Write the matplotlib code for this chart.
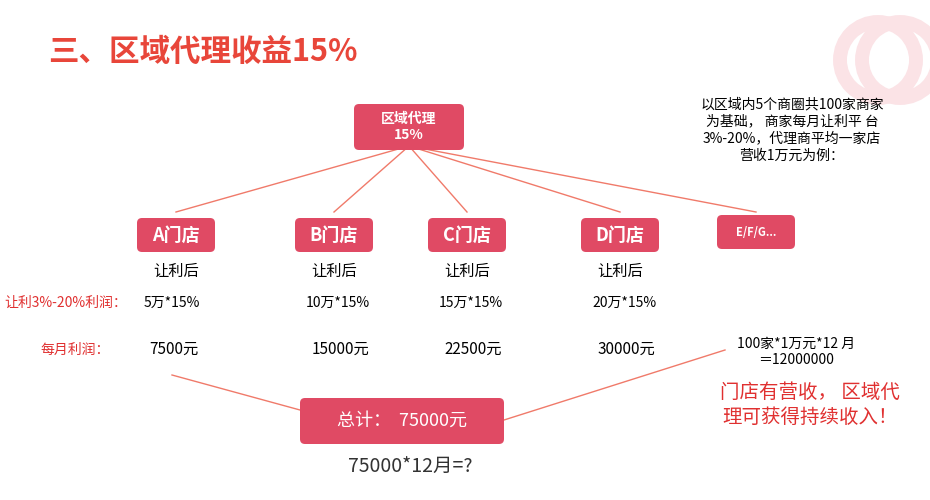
import matplotlib.pyplot as plt
from matplotlib.patches import FancyBboxPatch, Circle

plt.rcParams['font.family'] = ['Noto Sans CJK SC', 'DejaVu Sans']

stores = ['A门店', 'B门店', 'C门店', 'D门店', 'E/F/G...']
store_x = [176, 334, 467, 620, 756]
formulas = ['5万*15%', '10万*15%', '15万*15%', '20万*15%']
profits = ['7500元', '15000元', '22500元', '30000元']
total = '总计：  75000元'

box_c = '#e04a64'
line_c = '#f07a6a'

fig = plt.figure(figsize=(9.3, 5.0), dpi=100)
ax = fig.add_axes([0, 0, 1, 1])
ax.set_xlim(0, 930)
ax.set_ylim(500, 0)
ax.axis('off')

# decoration top right
for cx in (878, 900):
    ax.add_patch(Circle((cx, 60), 38, fill=False, lw=10, ec='#fbe3e6', zorder=0))

def box(x, y, w, h, txt, fs, bold=True):
    ax.add_patch(FancyBboxPatch((x - w / 2, y - h / 2), w, h,
                                boxstyle='round,pad=0,rounding_size=5',
                                fc=box_c, ec='none', zorder=3))
    ax.text(x, y, txt, color='white', fontsize=fs, ha='center', va='center',
            fontweight='bold' if bold else 'normal', zorder=4)

ax.text(48, 52, '三、区域代理收益15%', fontsize=22, fontweight='bold',
        color='#e8463a', va='center')

# lines from top box
for sx in store_x:
    ax.plot([409, sx], [146, 212], color=line_c, lw=1, zorder=1)
ax.plot([172, 300], [375, 410], color=line_c, lw=1)
ax.plot([504, 725], [420, 350], color=line_c, lw=1)

box(409, 127, 110, 46, '区域代理\n15%', 10)
for i, (s, x) in enumerate(zip(stores, store_x)):
    if i < 4:
        box(x, 235, 78, 34, s, 13)
        ax.text(x, 271, '让利后', fontsize=11, ha='center', va='center')
        ax.text(x - 4 + 8 * (i > 0), 303, formulas[i], fontsize=10, ha='center', va='center')
        ax.text(x - 2 + 8 * (i > 0), 349, profits[i], fontsize=11, ha='center', va='center')
    else:
        box(x, 232, 78, 34, s, 8)

ax.text(4, 303, '让利3%-20%利润：', fontsize=10, color='#e03030', va='center')
ax.text(40, 350, '每月利润：', fontsize=10, color='#e03030', va='center')

ax.text(792, 130, '以区域内5个商圈共100家商家\n为基础， 商家每月让利平 台\n3%-20%，代理商平均一家店\n营收1万元为例：',
        fontsize=10, ha='center', va='center', linespacing=1.3)
ax.text(796, 352, '100家*1万元*12 月\n＝12000000', fontsize=10, ha='center', va='center')
ax.text(810, 405, '门店有营收， 区域代\n理可获得持续收入！', fontsize=14, color='#e03030',
        ha='center', va='center', linespacing=1.3)

box(402, 421, 204, 46, total, 13, bold=False)
ax.text(410, 466, '75000*12月=?', fontsize=14, ha='center', va='center', color='#333333')

fig.savefig('out.png', dpi=100, facecolor='white')
